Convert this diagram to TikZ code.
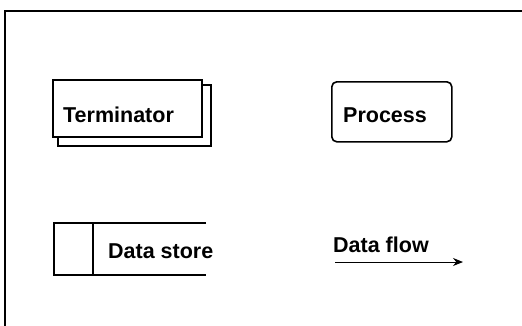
\documentclass[tikz,border=0pt]{standalone}
\usepackage{fontspec}
\setmainfont{Liberation Sans}
\usetikzlibrary{arrows.meta}
\begin{document}
\begin{tikzpicture}[x=1pt,y=1pt,
  lbl/.style={font=\fontsize{21.5}{25}\selectfont\bfseries, inner sep=0pt, anchor=base west},
  box/.style={draw, line width=1.6pt, inner sep=0pt, anchor=north west},
  edge/.style={line width=1.6pt}]
\useasboundingbox (0,0) rectangle (522,-325);
\clip (0,0) rectangle (522,-325);
% outer frame (runs off the right and bottom)
\draw[line width=2.2pt] (5,-340) -- (5,-11) -- (540,-11);

% terminator: shadow box behind a white front box
\node[box, minimum width=153pt, minimum height=61pt] (termback) at (57,-84) {};
\node[box, fill=white, minimum width=149pt, minimum height=57pt] (term) at (52,-79) {};
\node[lbl] (termtext) at (63,-122) {Terminator};

% process: rounded box
\node[box, rounded corners=5pt, minimum width=120pt, minimum height=60pt] (proc) at (331,-81) {};
\node[lbl] (proctext) at (343,-122) {Process};

% data store: open-ended box with a side compartment
\coordinate (dsTR) at (206,-223);
\coordinate (dsTL) at (54,-223);
\coordinate (dsBL) at (54,-275);
\coordinate (dsBR) at (206,-275);
\coordinate (dsDT) at (93,-223);
\coordinate (dsDB) at (93,-275);
\draw[edge] (dsTR) -- (dsTL) -- (dsBL) -- (dsBR);
\draw[edge] (dsDT) -- (dsDB);
\node[lbl] (dstext) at (108,-258) {Data store};

% data flow: labelled arrow
\node[lbl] (flowtext) at (333,-252) {Data flow};
\coordinate (flowA) at (335,-262);
\coordinate (flowB) at (463,-262);
\draw[line width=1pt, -{Stealth[length=10pt,width=8pt]}] (flowA) -- (flowB);
\end{tikzpicture}
\end{document}
